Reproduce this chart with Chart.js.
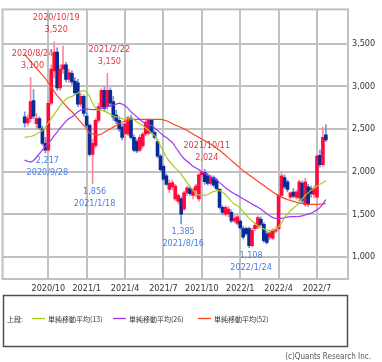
<!DOCTYPE html>
<html>
<head>
<meta charset="utf-8">
<script src="https://cdn.jsdelivr.net/npm/chart.js@4"></script>
<style>
  html, body { margin: 0; padding: 0; background: #fff; }
  #wrap { width: 382px; height: 362px; }
</style>
</head>
<body>
<div id="wrap"><canvas id="chart" width="382" height="362"></canvas></div>
<script>
// weekly categories (Mondays)
const weeks = [
  '2020/6/22','2020/6/29','2020/7/6','2020/7/13','2020/7/20','2020/7/27','2020/8/3','2020/8/10','2020/8/17','2020/8/24',
  '2020/8/31','2020/9/7','2020/9/14','2020/9/21','2020/9/28','2020/10/5','2020/10/12','2020/10/19','2020/10/26','2020/11/2',
  '2020/11/9','2020/11/16','2020/11/23','2020/11/30','2020/12/7','2020/12/14','2020/12/21','2020/12/28','2021/1/4','2021/1/11',
  '2021/1/18','2021/1/25','2021/2/1','2021/2/8','2021/2/15','2021/2/22','2021/3/1','2021/3/8','2021/3/15','2021/3/22',
  '2021/3/29','2021/4/5','2021/4/12','2021/4/19','2021/4/26','2021/5/3','2021/5/10','2021/5/17','2021/5/24','2021/5/31',
  '2021/6/7','2021/6/14','2021/6/21','2021/6/28','2021/7/5','2021/7/12','2021/7/19','2021/7/26','2021/8/2','2021/8/9',
  '2021/8/16','2021/8/23','2021/8/30','2021/9/6','2021/9/13','2021/9/20','2021/9/27','2021/10/4','2021/10/11','2021/10/18',
  '2021/10/25','2021/11/1','2021/11/8','2021/11/15','2021/11/22','2021/11/29','2021/12/6','2021/12/13','2021/12/20','2021/12/27',
  '2022/1/3','2022/1/10','2022/1/17','2022/1/24','2022/1/31','2022/2/7','2022/2/14','2022/2/21','2022/2/28','2022/3/7',
  '2022/3/14','2022/3/21','2022/3/28','2022/4/4','2022/4/11','2022/4/18','2022/4/25','2022/5/2','2022/5/9','2022/5/16',
  '2022/5/23','2022/5/30','2022/6/6','2022/6/13','2022/6/20','2022/6/27','2022/7/4','2022/7/11','2022/7/18','2022/7/25',
  '2022/8/1','2022/8/8','2022/8/15','2022/8/22','2022/8/29','2022/9/5','2022/9/12'
];
const firstWeek = '2020/8/10';

const quarterDates  = ['2020/10/5','2021/1/4','2021/4/5','2021/7/5','2021/10/4','2022/1/3','2022/4/4','2022/7/4'];
const quarterLabels = ['2020/10','2021/1','2021/4','2021/7','2021/10','2022/1','2022/4','2022/7'];
const yTicks = [1000, 1500, 2000, 2500, 3000, 3500];

// weekly candles from 2020/8/10
const opens = [
  2640,2570,2620,2830,2560,2620,2500,2330,2250,2800,
  3180,3400,2980,3200,3250,3080,3150,3060,3040,2790,
  2880,2650,2540,2200,2300,2600,2760,2950,2760,2950,
  2820,2660,2600,2520,2440,2440,2630,2400,2350,2250,
  2300,2440,2450,2600,2460,2350,2180,2060,1950,1790,
  1820,1680,1650,1680,1560,1750,1800,1720,1780,1680,
  1960,1990,1950,1860,1930,1900,1790,1580,1500,1500,
  1520,1420,1390,1420,1330,1330,1330,1130,1330,1350,
  1440,1380,1270,1230,1220,1300,1330,1720,1930,1880,
  1700,1760,1700,1690,1860,1610,1820,1800,1730,1700,
  2190,2080,2430
];
const highs = [
  2700,2660,3100,2960,2680,2640,2530,2400,2830,3250,
  3520,3450,3250,3470,3280,3200,3180,3100,3080,2920,
  2900,2700,2560,2380,2620,2800,2970,2990,3150,2980,
  2880,2720,2640,2560,2600,2650,2660,2430,2380,2430,
  2460,2600,2620,2610,2480,2380,2200,2080,1970,1900,
  1900,1850,1740,1700,1770,1830,1830,1810,1850,1980,
  2010,2024,1980,1960,1950,1920,1800,1600,1600,1590,
  1550,1490,1500,1440,1360,1350,1350,1340,1400,1480,
  1470,1400,1300,1300,1330,1350,1740,2005,1960,1900,
  1760,1800,1780,1900,1890,1920,1850,1830,1830,2200,
  2250,2520,2550
];
const lows = [
  2520,2530,2580,2620,2500,2490,2310,2217,2230,2780,
  3100,2950,2950,3150,3050,3040,3020,2900,2760,2760,
  2650,2500,2180,1856,2280,2570,2740,2700,2720,2760,
  2600,2560,2470,2370,2380,2420,2380,2230,2220,2230,
  2280,2420,2430,2440,2380,2160,2000,1890,1840,1750,
  1780,1660,1620,1385,1540,1720,1720,1680,1700,1650,
  1900,1850,1840,1840,1820,1780,1560,1490,1480,1470,
  1400,1400,1370,1320,1210,1250,1108,1120,1310,1330,
  1360,1170,1150,1200,1200,1280,1310,1700,1800,1760,
  1680,1690,1680,1620,1630,1590,1590,1700,1690,1680,
  2050,2060,2350
];
const closes = [
  2570,2620,2820,2650,2620,2510,2330,2250,2800,3200,
  3400,2980,3200,3250,3080,3160,3050,2920,2790,2880,
  2680,2540,2200,2330,2600,2760,2950,2740,2950,2800,
  2640,2590,2500,2400,2560,2630,2400,2250,2240,2400,
  2440,2580,2600,2460,2400,2180,2020,1910,1850,1860,
  1870,1830,1720,1500,1750,1810,1740,1790,1830,1960,
  1990,1880,1860,1930,1840,1800,1580,1520,1580,1560,
  1420,1450,1470,1340,1230,1270,1130,1310,1370,1460,
  1380,1190,1170,1280,1310,1320,1720,1950,1820,1790,
  1750,1710,1760,1880,1660,1880,1620,1740,1800,2180,
  2080,2400,2370
];

// moving averages, same weeks as the candles
const ma13 = [
  2400,2405,2410,2420,2440,2460,2480,2520,2570,2620,
  2670,2720,2770,2810,2850,2870,2880,2900,2920,2940,
  2950,2930,2880,2800,2740,2720,2720,2710,2690,2670,
  2650,2640,2630,2620,2610,2620,2630,2610,2580,2560,
  2540,2510,2480,2450,2420,2370,2300,2230,2170,2120,
  2080,2040,2010,1970,1920,1870,1820,1780,1745,1725,
  1720,1720,1730,1750,1765,1775,1775,1760,1730,1690,
  1650,1620,1600,1570,1530,1490,1450,1420,1390,1360,
  1340,1325,1315,1310,1310,1320,1350,1400,1460,1500,
  1540,1570,1600,1640,1680,1720,1750,1780,1800,1830,
  1850,1870,1890
];
const ma26 = [
  2134,2120,2110,2130,2170,2210,2250,2290,2330,2370,
  2420,2460,2510,2550,2590,2620,2640,2670,2700,2720,
  2730,2735,2730,2725,2725,2730,2740,2750,2760,2770,
  2780,2790,2800,2790,2770,2740,2700,2670,2640,2610,
  2580,2560,2550,2540,2510,2480,2450,2420,2400,2370,
  2340,2290,2240,2190,2150,2120,2090,2060,2040,2020,
  2000,1980,1960,1940,1920,1900,1870,1840,1810,1785,
  1760,1740,1720,1700,1680,1660,1640,1620,1600,1580,
  1560,1530,1505,1480,1460,1450,1445,1450,1460,1465,
  1470,1470,1470,1475,1480,1490,1500,1510,1530,1550,
  1580,1620,1670
];
const ma52 = [
  3375,3330,3290,3250,3210,3170,3130,3090,3040,2990,
  2940,2890,2850,2810,2770,2730,2700,2660,2620,2580,
  2540,2500,2450,2440,2430,2430,2440,2460,2480,2500,
  2520,2540,2560,2580,2590,2600,2610,2610,2610,2610,
  2610,2610,2610,2610,2610,2610,2610,2605,2595,2580,
  2560,2545,2530,2515,2500,2480,2460,2440,2420,2400,
  2380,2360,2340,2320,2300,2270,2250,2220,2190,2160,
  2130,2100,2070,2040,2010,1985,1960,1935,1910,1885,
  1860,1835,1810,1785,1760,1740,1720,1700,1685,1670,
  1660,1650,1640,1630,1625,1620,1615,1615,1615,1615,
  1618,1620,1625
];

const maNames  = ['単純移動平均(13)', '単純移動平均(26)', '単純移動平均(52)'];
const maColors = ['#a3cf1f', '#a034f5', '#ff4422'];

// high / low callouts
const annoDates  = ['2020/10/19','2020/8/24','2021/2/22','2021/10/11','2020/9/28','2021/1/18','2021/8/16','2022/1/24'];
const annoValues = [3520, 3100, 3150, 2024, 2217, 1856, 1385, 1108];
const annoSides  = ['high','high','high','high','low','low','low','low'];

const NARROW = "'Liberation Sans Narrow', 'DejaVu Sans Condensed', sans-serif";
const CJK = "'Noto Sans CJK JP', sans-serif";
const GRID = '#c0c0c0';

const start = weeks.indexOf(firstWeek);
function place(arr) {
  const out = new Array(weeks.length).fill(null);
  arr.forEach((v, i) => { out[start + i] = v; });
  return out;
}
const isUp = opens.map((o, i) => closes[i] >= o);
const bodies = place(opens.map((o, i) => [o, closes[i]]));
const wicks = place(lows.map((l, i) => [l, highs[i]]));
const bodyColors = place(isUp.map(u => u ? '#ff0a3c' : '#0a2a96'));
const wickColors = place(isUp.map(u => u ? '#ff87a0' : '#6f95e0'));

const extras = {
  id: 'extras',
  beforeDatasetsDraw(chart) {
    const { ctx, chartArea: a } = chart;
    ctx.save();
    ctx.strokeStyle = GRID;
    ctx.lineWidth = 2;
    ctx.strokeRect(a.left, a.top, a.right - a.left, a.bottom - a.top);
    ctx.restore();
  },
  afterDraw(chart) {
    const { ctx } = chart;
    const xs = chart.scales.x, ys = chart.scales.y;
    ctx.save();
    ctx.font = '9px ' + NARROW;
    ctx.textAlign = 'center';
    ctx.textBaseline = 'middle';
    annoDates.forEach((d, i) => {
      const x = xs.getPixelForValue(weeks.indexOf(d)) + 2;
      const y = ys.getPixelForValue(annoValues[i]);
      const val = annoValues[i].toLocaleString('en-US');
      if (annoSides[i] === 'high') {
        ctx.fillStyle = '#e0363c';
        ctx.fillText(d, x, y - 24);
        ctx.fillText(val, x, y - 12);
      } else {
        ctx.fillStyle = '#4b7de6';
        ctx.fillText(val, x, y + 8);
        ctx.fillText(d, x, y + 20);
      }
    });

    // legend box
    ctx.strokeStyle = '#505050';
    ctx.lineWidth = 1.5;
    ctx.strokeRect(3.5, 295.5, 344, 51);
    ctx.font = '7px ' + CJK;
    ctx.textAlign = 'left';
    ctx.fillStyle = '#333';
    ctx.fillText('上段:', 7, 319);
    const itemX = [32, 113, 198];
    maNames.forEach((n, i) => {
      ctx.strokeStyle = maColors[i];
      ctx.lineWidth = 1.3;
      ctx.beginPath();
      ctx.moveTo(itemX[i], 318.5);
      ctx.lineTo(itemX[i] + 13, 318.5);
      ctx.stroke();
      ctx.fillStyle = '#333';
      ctx.fillText(n, itemX[i] + 16, 319);
    });

    ctx.font = '8px ' + NARROW;
    ctx.textAlign = 'right';
    ctx.fillStyle = '#555';
    ctx.fillText('(c)Quants Research Inc.', 371, 357);
    ctx.restore();
  }
};

const lineDs = (data, i) => ({
  type: 'line',
  label: maNames[i],
  data: place(data),
  borderColor: maColors[i],
  borderWidth: 1.2,
  pointRadius: 0,
  tension: 0,
  order: 0
});

new Chart(document.getElementById('chart').getContext('2d'), {
  type: 'bar',
  data: {
    labels: weeks,
    datasets: [
      lineDs(ma13, 0),
      lineDs(ma26, 1),
      lineDs(ma52, 2),
      {
        label: 'body',
        data: bodies,
        backgroundColor: bodyColors,
        barThickness: 3,
        minBarLength: 1,
        grouped: false,
        order: 1
      },
      {
        label: 'wick',
        data: wicks,
        backgroundColor: wickColors,
        barThickness: 1,
        grouped: false,
        order: 2
      }
    ]
  },
  options: {
    responsive: false,
    animation: false,
    layout: { padding: { left: 2, top: 2, right: 0, bottom: 67 } },
    plugins: {
      legend: { display: false },
      tooltip: { enabled: false }
    },
    scales: {
      x: {
        offset: true,
        grid: {
          offset: false,
          drawTicks: false,
          lineWidth: 2,
          color: c => quarterDates.includes(weeks[c.index]) ? GRID : 'rgba(0,0,0,0)'
        },
        border: { display: false },
        ticks: {
          autoSkip: false,
          maxRotation: 0,
          padding: 4,
          color: '#333',
          font: { family: NARROW, size: 9 },
          callback: function (v) {
            const i = quarterDates.indexOf(this.getLabelForValue(v));
            return i < 0 ? '' : quarterLabels[i];
          }
        },
        afterFit: s => { s.height = 16; }
      },
      y: {
        position: 'right',
        min: 740,
        max: 3900,
        grid: { drawTicks: false, lineWidth: 2, color: GRID },
        border: { display: false },
        afterBuildTicks: s => { s.ticks = yTicks.map(v => ({ value: v })); },
        ticks: {
          padding: 4,
          color: '#333',
          font: { family: NARROW, size: 9 },
          callback: v => v.toLocaleString('en-US')
        },
        afterFit: s => { s.width = 34; }
      }
    }
  },
  plugins: [extras]
});
</script>
</body>
</html>
